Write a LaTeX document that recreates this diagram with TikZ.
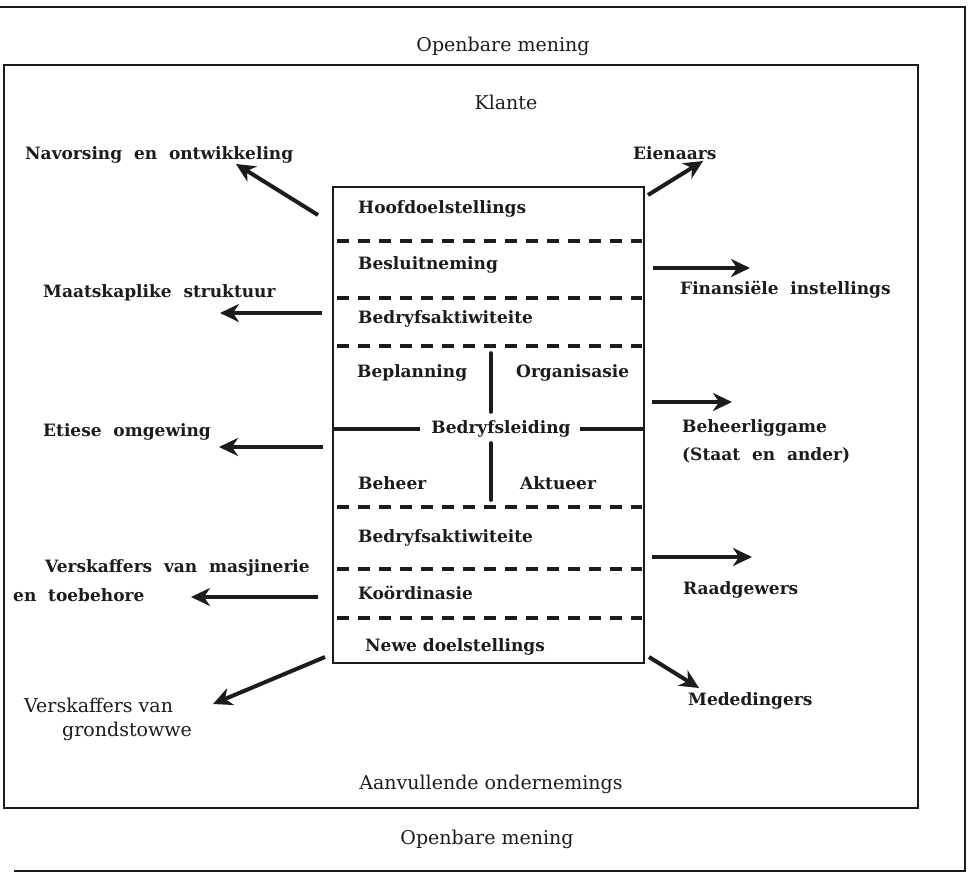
\documentclass[tikz,border=0pt]{standalone}
\usepackage{fontspec}
\usetikzlibrary{arrows.meta}
\setmainfont{DejaVu Serif}
\newfontfamily\slabfont{DejaVu Serif}
\definecolor{ink}{HTML}{1C1C1C}
\tikzset{
  slab/.style={font=\slabfont\bfseries\fontsize{17}{20}\selectfont, text=ink, inner sep=0pt, anchor=west},
  plain/.style={font=\slabfont\fontsize{19}{22}\selectfont, text=ink, inner sep=0pt},
  frame/.style={draw=ink, line width=2.8pt},
  divider/.style={draw=ink, line width=3.6pt, dash pattern=on 12pt off 9pt},
  solidline/.style={draw=ink, line width=3.6pt},
  flow/.style={draw=ink, line width=4pt, -{Stealth[length=19pt,width=18pt,inset=6pt]}}
}
\begin{document}
\begin{tikzpicture}[x=1pt,y=-1pt]
\useasboundingbox[fill=white] (0,0) rectangle (969,873);

% outer frame (open on the left)
\draw[frame] (0,7) -- (965,7) -- (965,871) -- (14,871);
% inner environment box
\draw[frame] (4,65) rectangle (918,808);

% environment labels
\node[plain] (open1) at (503,46) {Openbare mening};
\node[plain] (klante) at (506,102) {Klante};
\node[plain] (aanv) at (491,784) {Aanvullende ondernemings};
\node[plain] (open2) at (487,839) {Openbare mening};

% central enterprise box
\node[frame, minimum width=311pt, minimum height=476pt, inner sep=0pt] (cbox) at (488.5,425) {};

% layer dividers
\foreach \yy in {241,298,346,507,569,618}
  \draw[divider] (337,\yy) -- (642,\yy);

% management cross
\draw[solidline] (cbox.west |- 0,429) -- (420,429);
\draw[solidline] (580,429) -- (cbox.east |- 0,429);
\draw[solidline, line cap=round] (491,353) -- (491,412);
\draw[solidline, line cap=round] (491,443) -- (491,500);

% layer texts
\node[slab] (hoofd) at (358,209) {Hoofdoelstellings};
\node[slab] (besl) at (358,265) {Besluitneming};
\node[slab] (akt1) at (358,319) {Bedryfsaktiwiteite};
\node[slab] (bepl) at (357,373) {Beplanning};
\node[slab] (org) at (516,373) {Organisasie};
\node[slab, anchor=center] (leiding) at (501,429) {Bedryfsleiding};
\node[slab] (beheer) at (358,483) {Beheer};
\node[slab] (aktueer) at (520,483) {Aktueer};
\node[slab] (akt2) at (358,538) {Bedryfsaktiwiteite};
\node[slab] (koord) at (358,593) {Koördinasie};
\node[slab] (newe) at (365,647) {Newe doelstellings};

% outside parties, left
\node[slab] (navors) at (25,155) {Navorsing \ en \ ontwikkeling};
\node[slab] (maats) at (43,293) {Maatskaplike \ struktuur};
\node[slab] (etiese) at (43,432) {Etiese \ omgewing};
\node[slab] (masj1) at (45,568) {Verskaffers \ van \ masjinerie};
\node[slab] (masj2) at (13,595) {en \ toebehore};
\node[plain, anchor=west] (grond1) at (24,705) {Verskaffers van};
\node[plain, anchor=west] (grond2) at (62,731) {grondstowwe};

% outside parties, right
\node[slab] (eien) at (633,153) {Eienaars};
\node[slab] (finans) at (680,290) {Finansiële \ instellings};
\node[slab] (behl1) at (682,428) {Beheerliggame};
\node[slab] (behl2) at (682,455) {(Staat \ en \ ander)};
\node[slab] (raad) at (683,590) {Raadgewers};
\node[slab] (mede) at (688,701) {Mededingers};

% arrow end points
\coordinate (s1) at (318,215); \coordinate (e1) at (236,164);
\coordinate (s2) at (322,313); \coordinate (e2) at (220,313);
\coordinate (s3) at (323,447); \coordinate (e3) at (219,447);
\coordinate (s4) at (318,597); \coordinate (e4) at (191,597);
\coordinate (s5) at (325,657); \coordinate (e5) at (213,704);
\coordinate (t1) at (648,195); \coordinate (f1) at (703,161);
\coordinate (t2) at (653,268); \coordinate (f2) at (750,268);
\coordinate (t3) at (652,402); \coordinate (f3) at (732,402);
\coordinate (t4) at (652,557); \coordinate (f4) at (752,557);
\coordinate (t5) at (649,657); \coordinate (f5) at (699,688);

\draw[flow] (s1) -- (e1);
\draw[flow] (s2) -- (e2);
\draw[flow] (s3) -- (e3);
\draw[flow] (s4) -- (e4);
\draw[flow] (s5) -- (e5);
\draw[flow] (t1) -- (f1);
\draw[flow] (t2) -- (f2);
\draw[flow] (t3) -- (f3);
\draw[flow] (t4) -- (f4);
\draw[flow] (t5) -- (f5);
\end{tikzpicture}
\end{document}
